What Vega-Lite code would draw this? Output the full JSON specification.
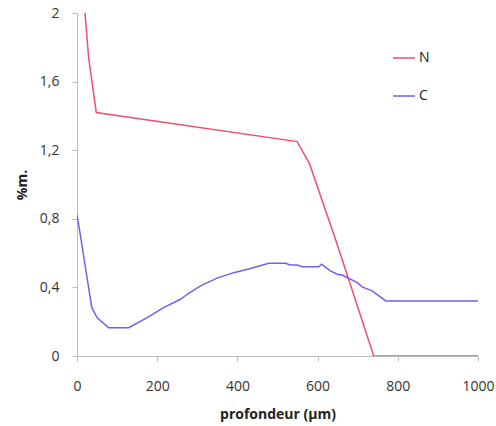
{
  "$schema": "https://vega.github.io/schema/vega-lite/v6.json",
  "autosize": "none",
  "width": 401,
  "height": 343,
  "padding": {"left": 77, "top": 13, "right": 18, "bottom": 70},
  "background": "white",
  "config": {
    "view": {"stroke": null},
    "font": "Open Sans"
  },
  "data": {
    "values": [
      {"x": 20, "y": 2.0, "s": "N"},
      {"x": 29, "y": 1.74, "s": "N"},
      {"x": 48, "y": 1.42, "s": "N"},
      {"x": 549, "y": 1.25, "s": "N"},
      {"x": 580, "y": 1.12, "s": "N"},
      {"x": 649, "y": 0.65, "s": "N"},
      {"x": 740, "y": 0.0, "s": "N"},
      {"x": 1000, "y": 0.0, "s": "N"},
      {"x": 0, "y": 0.823, "s": "C"},
      {"x": 8, "y": 0.71, "s": "C"},
      {"x": 21, "y": 0.516, "s": "C"},
      {"x": 37, "y": 0.282, "s": "C"},
      {"x": 50, "y": 0.224, "s": "C"},
      {"x": 79, "y": 0.165, "s": "C"},
      {"x": 129, "y": 0.165, "s": "C"},
      {"x": 175, "y": 0.224, "s": "C"},
      {"x": 216, "y": 0.282, "s": "C"},
      {"x": 258, "y": 0.331, "s": "C"},
      {"x": 275, "y": 0.36, "s": "C"},
      {"x": 308, "y": 0.409, "s": "C"},
      {"x": 349, "y": 0.454, "s": "C"},
      {"x": 391, "y": 0.486, "s": "C"},
      {"x": 433, "y": 0.51, "s": "C"},
      {"x": 478, "y": 0.541, "s": "C"},
      {"x": 520, "y": 0.541, "s": "C"},
      {"x": 532, "y": 0.531, "s": "C"},
      {"x": 549, "y": 0.531, "s": "C"},
      {"x": 562, "y": 0.52, "s": "C"},
      {"x": 603, "y": 0.52, "s": "C"},
      {"x": 610, "y": 0.535, "s": "C"},
      {"x": 632, "y": 0.496, "s": "C"},
      {"x": 649, "y": 0.477, "s": "C"},
      {"x": 661, "y": 0.472, "s": "C"},
      {"x": 699, "y": 0.428, "s": "C"},
      {"x": 711, "y": 0.403, "s": "C"},
      {"x": 736, "y": 0.38, "s": "C"},
      {"x": 770, "y": 0.321, "s": "C"},
      {"x": 1000, "y": 0.321, "s": "C"}
    ]
  },
  "mark": {"type": "line", "strokeWidth": 1.5, "clip": true},
  "encoding": {
    "x": {
      "field": "x", "type": "quantitative",
      "scale": {"domain": [0, 1000], "nice": false},
      "axis": {
        "values": [0, 200, 400, 600, 800, 1000],
        "format": "d",
        "title": "profondeur (µm)",
        "titleFontSize": 14, "titleFontWeight": "bold", "titleColor": "#222",
        "titlePadding": 14,
        "labelFontSize": 14, "labelColor": "#333", "labelPadding": 18,
        "grid": false, "domainColor": "#bbbbbb", "tickColor": "#bbbbbb",
        "tickSize": 5, "labelFlush": false
      }
    },
    "y": {
      "field": "y", "type": "quantitative",
      "scale": {"domain": [0, 2], "nice": false},
      "axis": {
        "values": [0, 0.4, 0.8, 1.2, 1.6, 2],
        "format": ".1~f",
        "labelExpr": "replace(datum.label, '.', ',')",
        "title": "%m.",
        "titleFontSize": 14, "titleFontWeight": "bold", "titleColor": "#222",
        "titlePadding": 10,
        "labelFontSize": 14, "labelColor": "#333", "labelPadding": 13,
        "grid": false, "domainColor": "#bbbbbb", "tickColor": "#bbbbbb",
        "tickSize": 5, "labelFlush": false
      }
    },
    "color": {
      "field": "s", "type": "nominal",
      "scale": {"domain": ["N", "C"], "range": ["#f0506c", "#7a5cf0"]},
      "legend": {
        "title": null,
        "orient": "none",
        "legendX": 315,
        "legendY": 33,
        "symbolType": "stroke",
        "symbolSize": 484,
        "symbolStrokeWidth": 1.5,
        "labelFontSize": 14,
        "labelColor": "#222",
        "labelOffset": 3,
        "rowPadding": 19
      }
    }
  }
}
